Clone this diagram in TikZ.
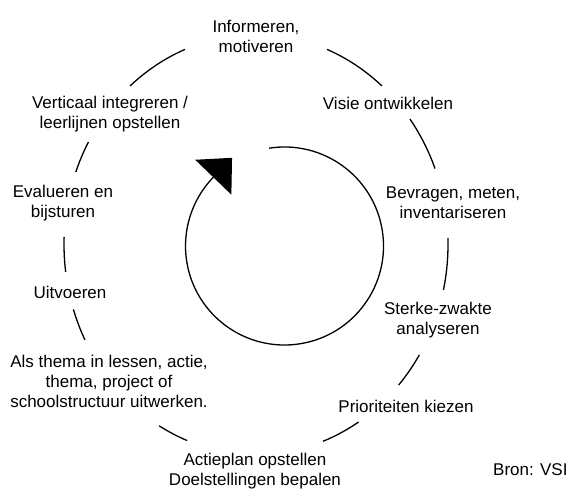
\documentclass[tikz,border=0pt]{standalone}
\usepackage{fontspec}
\setmainfont{Liberation Sans}
\usetikzlibrary{arrows.meta}

\begin{document}
\begin{tikzpicture}[x=1pt,y=1pt,lbl/.style={align=center,font=\fontsize{17}{20}\selectfont,inner sep=1pt},ring/.style={line width=1.3pt},cyc/.style={line width=1.3pt,-{Triangle[length=27pt,width=50pt]}}]
\useasboundingbox (0,0) rectangle (569,491);
\node[lbl](info) at (256,455){Informeren,\\motiveren};
\node[lbl](visie) at (388,388){Visie ontwikkelen};
\node[lbl](bevr) at (453,288){Bevragen, meten,\\inventariseren};
\node[lbl](sterk) at (438,171){Sterke-zwakte\\analyseren};
\node[lbl](prio) at (406,85){Prioriteiten kiezen};
\node[lbl](actie) at (255,20){Actieplan opstellen\\Doelstellingen bepalen};
\node[lbl](thema) at (109,110){Als thema in lessen, actie,\\thema, project of\\schoolstructuur uitwerken.};
\node[lbl](uitv) at (70,199){Uitvoeren};
\node[lbl](eval) at (63,288){Evalueren en\\bijsturen};
\node[lbl](vert) at (110,377){Verticaal integreren /\\leerlijnen opstellen};
\node[lbl,anchor=west](bron) at (492,21){Bron: VSI};
\foreach \a/\b in {111.7/131,68.3/49,36.7/21.2,1.8/-12.5,-31.7/-42,-57.7/-69.6,-111/-120.3,198/207,178/187.5,150.8/159.8}\draw[ring,shift={(256,246.5)}](\a:192 and 210) arc[start angle=\a,end angle=\b,x radius=192,y radius=210];
\draw[cyc,shift={(284.5,245)}](99:99) arc[start angle=99,end angle=-224,radius=99] -- ++(46:27);
\end{tikzpicture}
\end{document}
